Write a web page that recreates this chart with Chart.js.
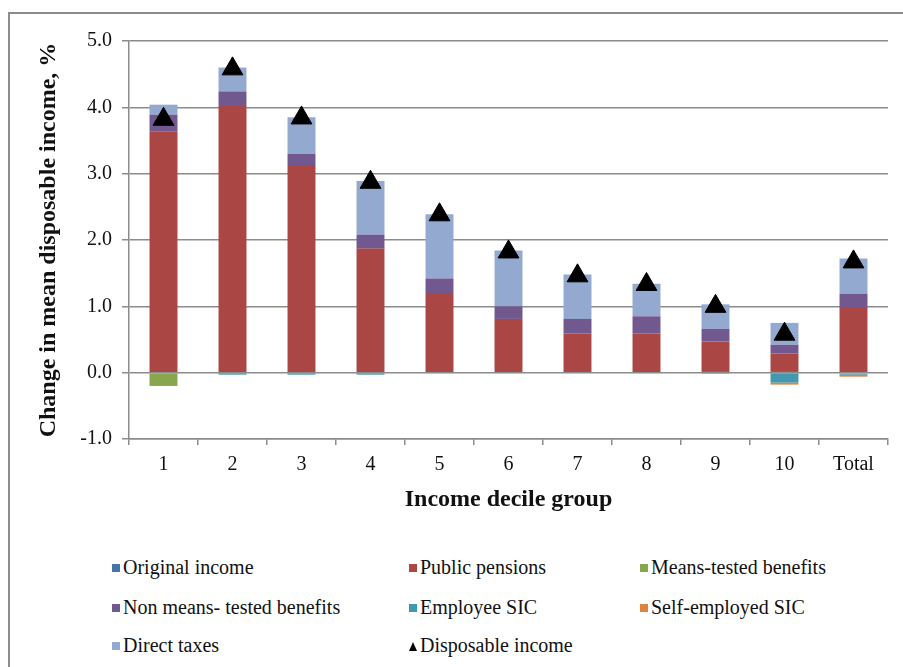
<!DOCTYPE html>
<html>
<head>
<meta charset="utf-8">
<script src="https://cdn.jsdelivr.net/npm/chart.js@4.4.1/dist/chart.umd.min.js"></script>
<style>
  body { margin: 0; background: #fff; }
  #frame { position: absolute; left: 8px; top: 12px; width: 1000px; height: 1000px; border-left: 2px solid #8c8c8c; border-top: 2px solid #8c8c8c; }
  #wrap { position: absolute; left: 0; top: 0; width: 903px; height: 530px; }
  .item { position: absolute; font-family: "Liberation Serif", "Times New Roman", serif; font-size: 20px; color: #111; white-space: nowrap; line-height: 20px; }
  .box { display: inline-block; width: 8px; height: 8px; margin-right: 3px; vertical-align: 2px; }
  .tri { display: inline-block; width: 0; height: 0; border-left: 4px solid transparent; border-right: 4px solid transparent; border-bottom: 9px solid #000; margin-right: 3px; vertical-align: 1px; }
</style>
</head>
<body>
<div id="frame"></div>
<div id="wrap"><canvas id="myChart"></canvas></div>
<div id="legend"></div>
<script>
var deciles = ['1', '2', '3', '4', '5', '6', '7', '8', '9', '10', 'Total'];

// changes in mean disposable income by component, %
var originalIncome   = [0, 0, 0, 0, 0, 0, 0, 0, 0, 0, 0];
var publicPensions   = [3.64, 4.02, 3.13, 1.87, 1.20, 0.81, 0.59, 0.59, 0.47, 0.29, 0.99];
var meansTested      = [-0.20, -0.01, -0.01, -0.01, 0, 0, 0, 0, 0, 0, -0.02];
var nonMeansTested   = [0.25, 0.22, 0.17, 0.21, 0.22, 0.19, 0.22, 0.26, 0.19, 0.13, 0.20];
var employeeSIC      = [0, -0.02, -0.02, -0.02, -0.01, -0.01, 0, 0, 0, -0.15, -0.01];
var selfEmployedSIC  = [0, 0, 0, 0, 0, 0, 0, -0.01, -0.02, -0.03, -0.03];
var directTaxes      = [0.15, 0.36, 0.55, 0.81, 0.97, 0.84, 0.67, 0.49, 0.37, 0.33, 0.53];
var disposableIncome = [3.82, 4.58, 3.84, 2.87, 2.38, 1.82, 1.46, 1.33, 1.00, 0.58, 1.67];

var yTicks = [-1, 0, 1, 2, 3, 4, 5];

var gridColor = '#8c8c8c';
var serif = '"Liberation Serif", "Times New Roman", serif';

function bar(label, data, color) {
  return {
    type: 'bar',
    label: label,
    data: data,
    backgroundColor: color,
    borderWidth: 0,
    barPercentage: 0.405,
    categoryPercentage: 1,
    stack: 'parts'
  };
}

var datasets = [
  bar('Original income', originalIncome, '#4572A7'),
  bar('Public pensions', publicPensions, '#AA4643'),
  bar('Means-tested benefits', meansTested, '#89A54E'),
  bar('Non means- tested benefits', nonMeansTested, '#71588F'),
  bar('Employee SIC', employeeSIC, '#4198AF'),
  bar('Self-employed SIC', selfEmployedSIC, '#DB843D'),
  bar('Direct taxes', directTaxes, '#93A9CF'),
  {
    type: 'line',
    label: 'Disposable income',
    data: disposableIncome,
    showLine: false,
    pointStyle: 'triangle',
    pointRadius: 12,
    pointBackgroundColor: '#000',
    pointBorderColor: '#000',
    pointBorderWidth: 1,
    stack: 'disposable',
    order: -1
  }
];

var ctx = document.getElementById('myChart').getContext('2d');
var chart = new Chart(ctx, {
  data: { labels: deciles, datasets: datasets },
  options: {
    responsive: true,
    maintainAspectRatio: false,
    animation: false,
    layout: { padding: { left: 30, top: 41, right: 15, bottom: 16 } },
    plugins: { legend: { display: false }, tooltip: { enabled: false } },
    scales: {
      x: {
        stacked: true,
        offset: true,
        grid: { offset: true, drawOnChartArea: false, drawTicks: true, tickLength: 6, color: gridColor, lineWidth: 1.5 },
        border: { display: true, color: gridColor, width: 1.5 },
        ticks: { color: '#111', font: { family: serif, size: 20 }, padding: 8, maxRotation: 0 },
        title: { display: true, text: 'Income decile group', color: '#111', font: { family: serif, size: 24, weight: 'bold' }, padding: { top: 0, bottom: 0 } },
        afterFit: function (scale) { scale.height = 75; }
      },
      y: {
        stacked: true,
        min: -1,
        max: 5,
        afterBuildTicks: function (scale) {
          scale.ticks = yTicks.map(function (v) { return { value: v }; });
        },
        grid: { color: gridColor, lineWidth: 1.5, drawTicks: true, tickLength: 7, tickColor: gridColor },
        border: { display: true, color: gridColor, width: 1.5 },
        ticks: {
          color: '#111',
          font: { family: serif, size: 20 },
          padding: 10,
          callback: function (v) { return Number(v).toFixed(1); }
        },
        title: { display: true, text: 'Change in mean disposable income, %', color: '#111', font: { family: serif, size: 24, weight: 'bold' }, padding: { top: 4, bottom: 0 } },
        afterFit: function (scale) { scale.width = 99; }
      }
    }
  }
});

// legend in three columns under the plot
var legendCols = [112, 409, 640];
var legendRows = [557, 597, 635];
var legend = document.getElementById('legend');
datasets.forEach(function (ds, i) {
  var el = document.createElement('div');
  el.className = 'item';
  el.style.left = legendCols[i % 3] + 'px';
  el.style.top = legendRows[Math.floor(i / 3)] + 'px';
  var mark = document.createElement('span');
  if (ds.type === 'line') {
    mark.className = 'tri';
  } else {
    mark.className = 'box';
    mark.style.background = ds.backgroundColor;
  }
  el.appendChild(mark);
  el.appendChild(document.createTextNode(ds.label));
  legend.appendChild(el);
});
</script>
</body>
</html>
